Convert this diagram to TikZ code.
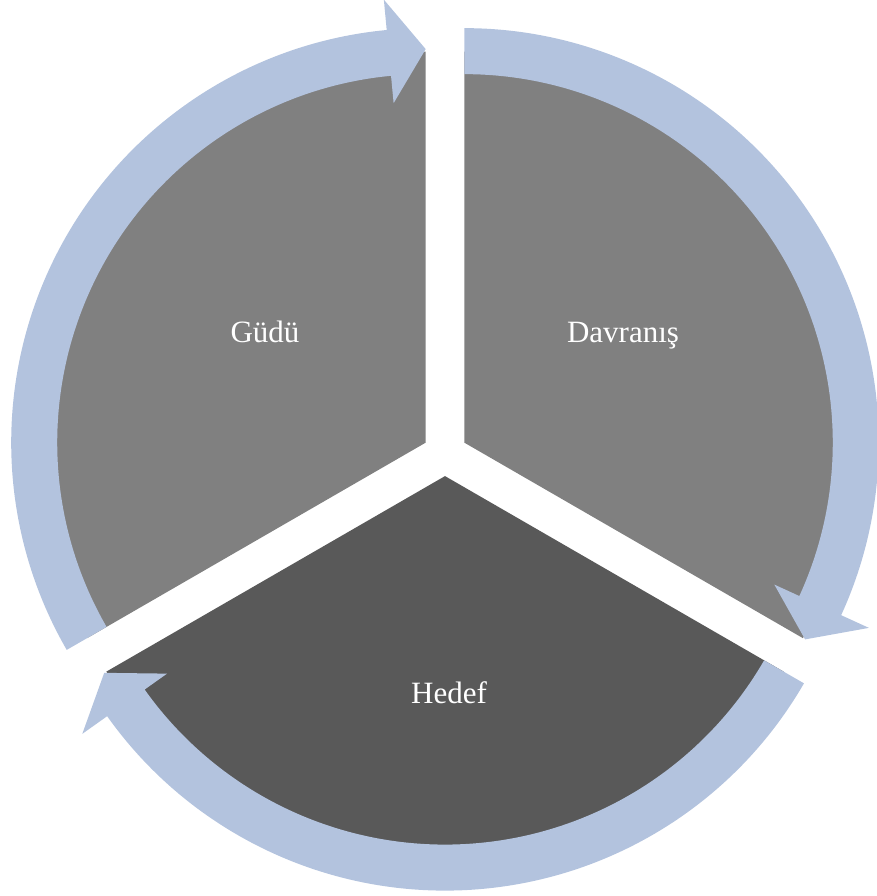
\documentclass[tikz,border=0pt]{standalone}
\usepackage{fontspec}
\setmainfont{Liberation Serif}
\definecolor{ringblue}{RGB}{179,195,222}
\definecolor{segmid}{RGB}{128,128,128}
\definecolor{segdark}{RGB}{89,89,89}
\newcommand\cyclearrow[3]{% center, start angle, tip angle
  \pgfmathsetmacro\headbase{#3+5.4}
  \fill[ringfill,shift={(#1)}] (#2:414.5pt)
    arc[start angle=#2,end angle=\headbase,radius=414.5pt]
    -- (\headbase:445pt) -- (#3:393.5pt) -- (\headbase:341pt)
    -- (\headbase:368.5pt)
    arc[start angle=\headbase,end angle=#2,radius=368.5pt] -- cycle;}
\begin{document}
\begin{tikzpicture}[x=1pt,y=1pt,
  ringfill/.style={fill=ringblue},
  lbl/.style={text=white,font=\fontsize{31}{37}\selectfont,anchor=base,inner sep=0pt}]
\useasboundingbox (0,0) rectangle (877,896);
\coordinate (G) at (425.7,453.35);
\coordinate (D) at (464.3,453.35);
\coordinate (H) at (445,419.9);
% sectors (their rims lie under the arrows)
\fill[segmid] (G) -- ++(90:391pt) arc[start angle=90,end angle=210,radius=391pt] -- cycle;
\fill[segmid] (D) -- ++(-30:391pt) arc[start angle=-30,end angle=90,radius=391pt] -- cycle;
\fill[segdark] (H) -- ++(210:391pt) arc[start angle=210,end angle=330,radius=391pt] -- cycle;
% circular arrows
\cyclearrow{G}{210}{90}
\cyclearrow{D}{90}{-30}
\cyclearrow{H}{330}{210}
% labels
\node[lbl] (gudu) at (265,553) {Güdü};
\node[lbl] (davranis) at (623,553) {Davranış};
\node[lbl] (hedef) at (449,192) {Hedef};
\end{tikzpicture}
\end{document}
